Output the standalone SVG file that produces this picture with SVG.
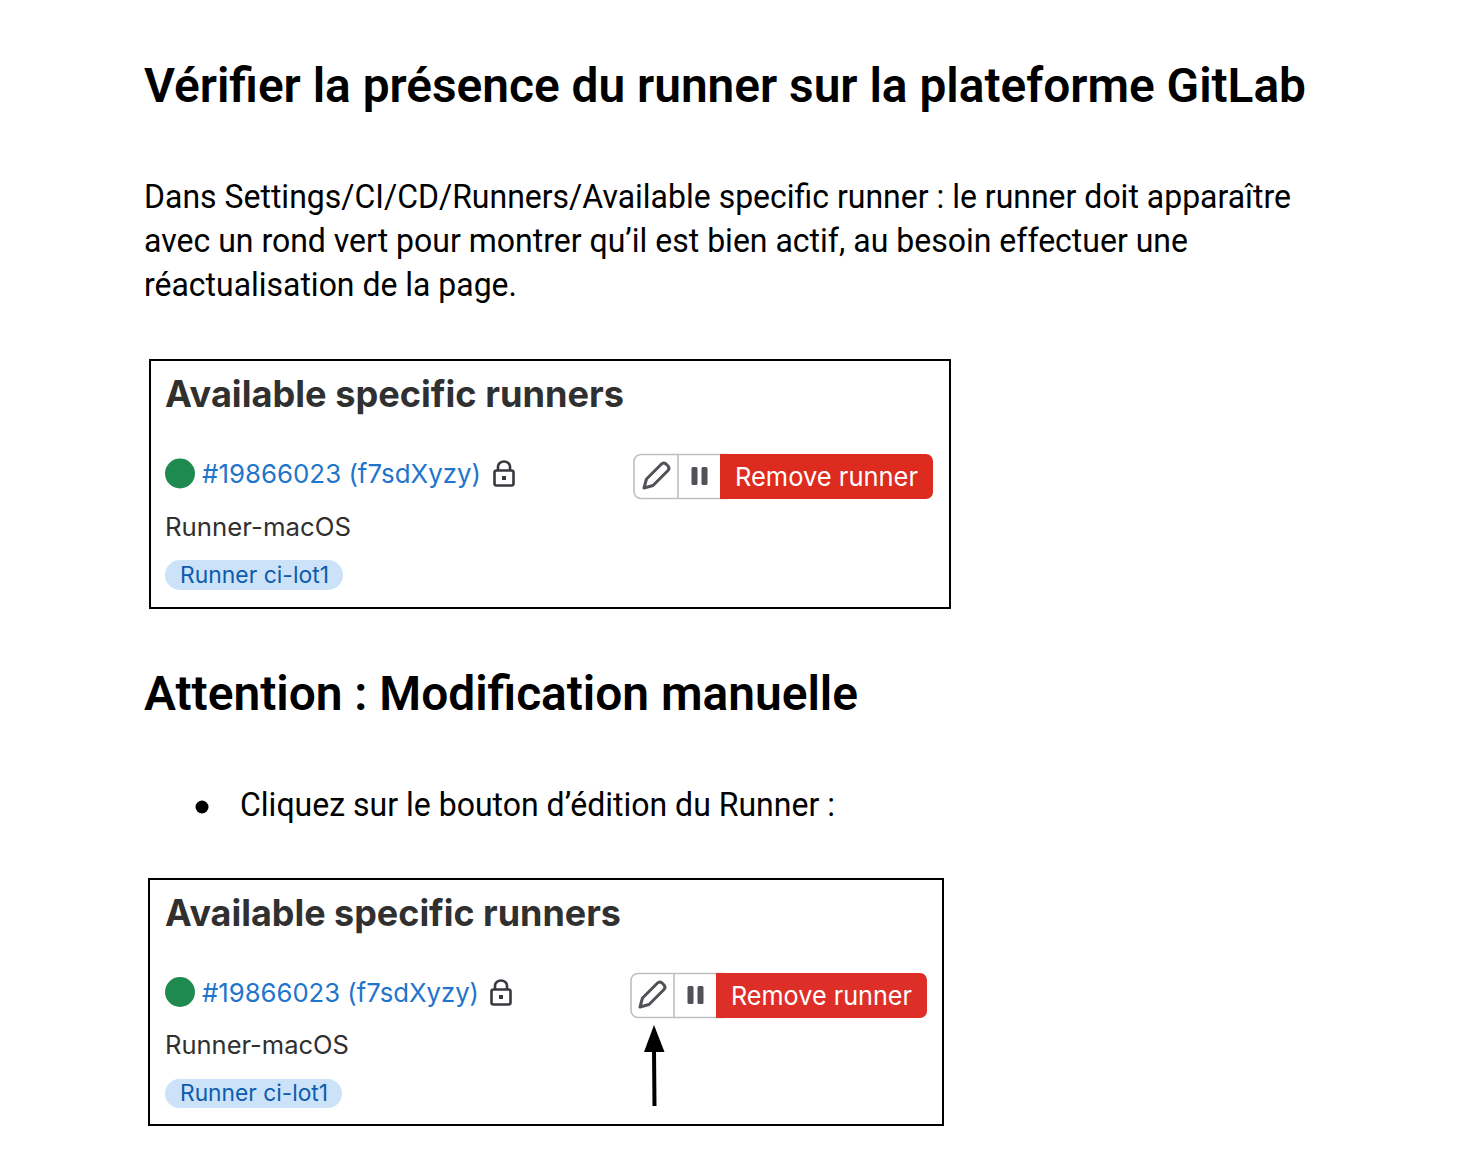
<svg xmlns="http://www.w3.org/2000/svg" width="1462" height="1170" viewBox="0 0 1462 1170">
<style>
text{font-family:Roboto,"Liberation Sans",sans-serif}
.h{font-size:48px;font-weight:600;fill:#000}
.b{font-size:33px;fill:#000}
.t{font-family:Inter,"Liberation Sans",sans-serif;font-weight:700;fill:#303030}
.l{font-family:Inter,"Liberation Sans",sans-serif;fill:#1f75cb}
.n{font-family:Inter,"Liberation Sans",sans-serif;fill:#303030}
.g{font-family:Inter,"Liberation Sans",sans-serif;fill:#0b5cad}
.r{font-family:Inter,"Liberation Sans",sans-serif;fill:#fff}
.frame{fill:#fff;stroke:#000;stroke-width:2}
.ic{fill:none;stroke:#535158;stroke-width:3;stroke-linejoin:round}
.btn{fill:#fff;stroke:#bfbfc3;stroke-width:1.6}
.lk{fill:none;stroke:#3a383f;stroke-width:2.6}
</style>
<defs>
<g id="lock">
<rect class="lk" x="494.500" y="470.500" width="19" height="15" rx="2"/>
<path class="lk" d="M498 470.500v-4a6 5 0 0 1 12 0v4"/>
<rect x="502" y="476" width="4" height="4" fill="#3a383f"/>
</g>
</defs>
<g id="heading1"><text class="h" x="144" y="102" textLength="1162" lengthAdjust="spacingAndGlyphs">Vérifier la présence du runner sur la plateforme GitLab</text></g>
<g id="paragraph">
<text class="b" x="144" y="208" textLength="1147" lengthAdjust="spacingAndGlyphs">Dans Settings/CI/CD/Runners/Available specific runner : le runner doit apparaître</text>
<text class="b" x="144" y="252" textLength="1044" lengthAdjust="spacingAndGlyphs">avec un rond vert pour montrer qu’il est bien actif, au besoin effectuer une</text>
<text class="b" x="144" y="296" textLength="373" lengthAdjust="spacingAndGlyphs">réactualisation de la page.</text>
</g>
<g id="panel1">
<rect class="frame" x="150" y="360" width="800" height="248"/>
<text class="t" x="165" y="407" font-size="37" textLength="459" lengthAdjust="spacingAndGlyphs">Available specific runners</text>
<circle cx="180" cy="473.500" r="15" fill="#1f8a4f"/>
<text class="l" x="202" y="483" font-size="26" textLength="279" lengthAdjust="spacingAndGlyphs">#19866023 (f7sdXyzy)</text>
<use href="#lock"/>
<text class="n" x="165" y="536" font-size="25" textLength="186" lengthAdjust="spacingAndGlyphs">Runner-macOS</text>
<rect x="165" y="560" width="178" height="30" rx="15" fill="#cbe2f9"/>
<text class="g" x="180" y="583" font-size="22.500" textLength="149" lengthAdjust="spacingAndGlyphs">Runner ci-lot1</text>
<rect class="btn" x="634" y="454.500" width="100" height="44" rx="7"/>
<line x1="678" y1="454" x2="678" y2="499" stroke="#bfbfc3" stroke-width="1.600"/>
<path class="ic" d="M644 488l2.500-9 15-15q2-2 4.500 0l2 2q2 2.500 0 4.500l-15 15z"/>
<rect x="691.500" y="467" width="6" height="18" rx="1.500" fill="#535158"/>
<rect x="701.500" y="467" width="6" height="18" rx="1.500" fill="#535158"/>
<path d="M720 454h206a7 7 0 0 1 7 7v31a7 7 0 0 1-7 7H720z" fill="#dd2b1f"/>
<text class="r" x="735" y="486" font-size="26" textLength="183" lengthAdjust="spacingAndGlyphs">Remove runner</text>
</g>
<g id="heading2"><text class="h" x="144" y="710" textLength="714" lengthAdjust="spacingAndGlyphs">Attention : Modification manuelle</text></g>
<g id="bullet">
<circle cx="202" cy="807" r="6.500" fill="#000"/>
<text class="b" x="240" y="816" textLength="595" lengthAdjust="spacingAndGlyphs">Cliquez sur le bouton d’édition du Runner :</text>
</g>
<g id="panel2">
<rect class="frame" x="149" y="879" width="794" height="246"/>
<text class="t" x="165" y="926" font-size="37" textLength="456" lengthAdjust="spacingAndGlyphs">Available specific runners</text>
<circle cx="180" cy="992" r="15" fill="#1f8a4f"/>
<text class="l" x="202" y="1002" font-size="26" textLength="277" lengthAdjust="spacingAndGlyphs">#19866023 (f7sdXyzy)</text>
<use href="#lock" x="-3" y="519"/>
<text class="n" x="165" y="1054" font-size="25" textLength="184" lengthAdjust="spacingAndGlyphs">Runner-macOS</text>
<rect x="165" y="1079" width="177" height="29" rx="14.500" fill="#cbe2f9"/>
<text class="g" x="180" y="1101" font-size="22.500" textLength="148" lengthAdjust="spacingAndGlyphs">Runner ci-lot1</text>
<rect class="btn" x="631" y="973.500" width="100" height="44" rx="7"/>
<line x1="674" y1="973" x2="674" y2="1018" stroke="#bfbfc3" stroke-width="1.600"/>
<path class="ic" d="M640 1007l2.500-9 15-15q2-2 4.500 0l2 2q2 2.500 0 4.500l-15 15z"/>
<rect x="687.500" y="986" width="6" height="18" rx="1.500" fill="#535158"/>
<rect x="697.500" y="986" width="6" height="18" rx="1.500" fill="#535158"/>
<path d="M716 973h204a7 7 0 0 1 7 7v31a7 7 0 0 1-7 7H716z" fill="#dd2f27"/>
<text class="r" x="731" y="1005" font-size="26" textLength="181" lengthAdjust="spacingAndGlyphs">Remove runner</text>
</g>
<g id="connectors">
<line x1="654.500" y1="1106" x2="654" y2="1050" stroke="#000" stroke-width="4"/>
<polygon points="654,1025 664.500,1052 644,1052" fill="#000"/>
</g>
</svg>
